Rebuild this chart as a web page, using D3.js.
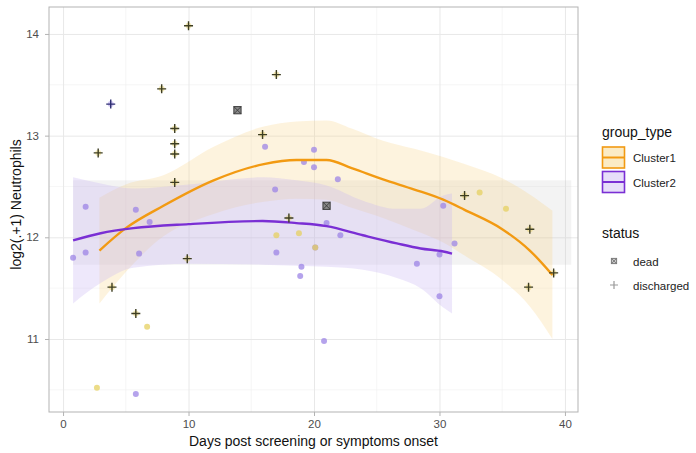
<!DOCTYPE html>
<html>
<head>
<meta charset="utf-8">
<script src="https://cdn.jsdelivr.net/npm/d3@7"></script>
<style>
  html, body { margin: 0; padding: 0; background: #ffffff; }
  svg { display: block; font-family: "Liberation Sans", Arial, sans-serif; }
</style>
</head>
<body>
<svg id="chart" width="696" height="453"></svg>
<script>
// ---------------- data ----------------
const xTicks = [0, 10, 20, 30, 40];
const yTicks = [11, 12, 13, 14];
const xMinor = [5, 15, 25, 35];
const yMinor = [10.5, 11.5, 12.5, 13.5];
const groups = ["Cluster1", "Cluster2"];
const statuses = ["dead", "discharged"];

// loess fit + CI, Cluster1
const c1Days = [2.9, 5, 8, 12, 16, 18.6, 21, 23, 25.5, 28, 30.3, 32, 35, 37.2, 39];
const c1Fit  = [11.87, 12.09, 12.31, 12.56, 12.72, 12.76, 12.76, 12.68, 12.57, 12.47, 12.37, 12.27, 12.08, 11.87, 11.63];
const c1Lo   = [11.35, 11.66, 12.01, 12.23, 12.35, 12.38, 12.37, 12.29, 12.19, 12.07, 11.95, 11.82, 11.58, 11.32, 11.00];
const c1Hi   = [12.39, 12.52, 12.61, 12.89, 13.09, 13.14, 13.15, 13.07, 12.95, 12.87, 12.79, 12.72, 12.58, 12.42, 12.26];

// loess fit + CI, Cluster2
const c2Days = [0.8, 3, 5.6, 10, 15.9, 18.6, 21, 23.9, 26.6, 28.5, 30.3, 31];
const c2Fit  = [11.97, 12.04, 12.09, 12.13, 12.16, 12.14, 12.11, 12.02, 11.94, 11.89, 11.86, 11.84];
const c2Lo   = [11.35, 11.55, 11.70, 11.74, 11.73, 11.72, 11.71, 11.68, 11.60, 11.50, 11.31, 11.25];
const c2Hi   = [12.59, 12.53, 12.48, 12.52, 12.59, 12.56, 12.51, 12.36, 12.28, 12.28, 12.41, 12.43];

// flat grey band
const bandDays = [0.8, 40.5];
const bandRange = [11.73, 12.56];

// plain coloured points
const dotDays   = [1.8, 5.8, 6.9, 0.8, 1.8, 6.06, 5.8, 16.1, 20.0, 20.0, 21.9, 16.9, 19.2, 21.0, 22.1, 17.0, 19.0, 18.9, 20.8, 30.3, 31.2, 30.0, 28.2, 30.0, 20.1,
                   17.0, 18.8, 20.1, 33.2, 35.3, 6.7, 2.7];
const dotValues = [12.30, 12.27, 12.15, 11.80, 11.85, 11.84, 10.46, 12.89, 12.86, 12.69, 12.57, 12.47, 12.74, 12.14, 12.02, 11.85, 11.71, 11.62, 10.98, 12.31, 11.94, 11.83, 11.74, 11.42, 11.90,
                   12.02, 12.04, 11.90, 12.44, 12.28, 11.12, 10.52];
const dotGroup  = ["Cluster2","Cluster2","Cluster2","Cluster2","Cluster2","Cluster2","Cluster2","Cluster2","Cluster2","Cluster2","Cluster2","Cluster2","Cluster2","Cluster2","Cluster2","Cluster2","Cluster2","Cluster2","Cluster2","Cluster2","Cluster2","Cluster2","Cluster2","Cluster2","Cluster2",
                   "Cluster1","Cluster1","Cluster1","Cluster1","Cluster1","Cluster1","Cluster1"];

// discharged (+) points
const plusDays   = [10.0, 7.86, 3.8, 8.9, 8.9, 8.9, 2.8, 8.9, 17.0, 15.9, 3.9, 5.8, 9.9, 18.0, 32.0, 37.2, 39.1, 37.1];
const plusValues = [14.08, 13.46, 13.31, 13.07, 12.92, 12.82, 12.83, 12.54, 13.60, 13.01, 11.51, 11.25, 11.79, 12.19, 12.41, 12.08, 11.65, 11.51];
const plusGroup  = ["Cluster1","Cluster1","Cluster2","Cluster1","Cluster1","Cluster1","Cluster1","Cluster1","Cluster1","Cluster1","Cluster1","Cluster1","Cluster1","Cluster1","Cluster1","Cluster1","Cluster1","Cluster1"];

// dead (⊠) points
const deadDays   = [13.9, 21.0];
const deadValues = [13.25, 12.31];

// ---------------- drawing ----------------
const svg = d3.select("#chart");
const panel = {left: 49, right: 578, top: 7, bottom: 412};
const x = d3.scaleLinear().domain([-1.12, 41.04]).range([panel.left, panel.right]);
const y = d3.scaleLinear().domain([10.282, 14.265]).range([panel.bottom, panel.top]);

const lineCol = {Cluster1: "#F29A12", Cluster2: "#7A2FD4"};
const ribbonCol = {Cluster1: "#F7D27E", Cluster2: "#C9B6F2"};
const ribbonOp = {Cluster1: 0.26, Cluster2: 0.32};
const dotCol = {Cluster1: "#E6D060", Cluster2: "#9C84E6"};
const plusCol = {Cluster1: "#3E3E22", Cluster2: "#2D2D70"};

// grid
const g = svg.append("g");
g.append("g").selectAll("line").data(xMinor).join("line")
  .attr("x1", d => x(d)).attr("x2", d => x(d)).attr("y1", panel.top).attr("y2", panel.bottom)
  .attr("stroke", "#F0F0F0").attr("stroke-width", 0.6);
g.append("g").selectAll("line").data(yMinor).join("line")
  .attr("y1", d => y(d)).attr("y2", d => y(d)).attr("x1", panel.left).attr("x2", panel.right)
  .attr("stroke", "#F0F0F0").attr("stroke-width", 0.6);
g.append("g").attr("transform", `translate(0,${panel.bottom})`)
  .call(d3.axisBottom(x).tickValues(xTicks).tickSize(-(panel.bottom - panel.top)).tickFormat(""))
  .call(a => a.select(".domain").remove())
  .call(a => a.selectAll("line").attr("stroke", "#E8E8E8").attr("stroke-width", 1));
g.append("g").attr("transform", `translate(${panel.left},0)`)
  .call(d3.axisLeft(y).tickValues(yTicks).tickSize(-(panel.right - panel.left)).tickFormat(""))
  .call(a => a.select(".domain").remove())
  .call(a => a.selectAll("line").attr("stroke", "#E8E8E8").attr("stroke-width", 1));

// grey band
svg.append("rect")
  .attr("x", x(bandDays[0])).attr("width", x(bandDays[1]) - x(bandDays[0]))
  .attr("y", y(bandRange[1])).attr("height", y(bandRange[0]) - y(bandRange[1]))
  .attr("fill", "#C4C4C4").attr("opacity", 0.2);

// ribbons
function ribbon(days, lo, hi, grp) {
  const area = d3.area().x(d => x(d[0])).y0(d => y(d[1])).y1(d => y(d[2])).curve(d3.curveMonotoneX);
  svg.append("path").datum(days.map((d, i) => [d, lo[i], hi[i]]))
    .attr("d", area).attr("fill", ribbonCol[grp]).attr("opacity", ribbonOp[grp]);
}
ribbon(c1Days, c1Lo, c1Hi, "Cluster1");
ribbon(c2Days, c2Lo, c2Hi, "Cluster2");

// dots
svg.append("g").selectAll("circle").data(dotDays.map((d, i) => i)).join("circle")
  .attr("cx", i => x(dotDays[i])).attr("cy", i => y(dotValues[i])).attr("r", 3)
  .attr("fill", i => dotCol[dotGroup[i]]).attr("opacity", 0.75);

// halos under + marks
svg.append("g").selectAll("circle").data(plusDays.map((d, i) => i)).join("circle")
  .attr("cx", i => x(plusDays[i])).attr("cy", i => y(plusValues[i])).attr("r", 3)
  .attr("fill", i => dotCol[plusGroup[i]]).attr("opacity", 0.45);

// smooth lines
function fitLine(days, fit, grp) {
  const line = d3.line().x(d => x(d[0])).y(d => y(d[1])).curve(d3.curveMonotoneX);
  svg.append("path").datum(days.map((d, i) => [d, fit[i]]))
    .attr("d", line).attr("fill", "none").attr("stroke", lineCol[grp]).attr("stroke-width", 2.4);
}
fitLine(c1Days, c1Fit, "Cluster1");
fitLine(c2Days, c2Fit, "Cluster2");

// + marks
const pg = svg.append("g");
plusDays.forEach((d, i) => {
  const cx = x(d), cy = y(plusValues[i]), s = 4.5;
  pg.append("path").attr("d", `M${cx - s},${cy}H${cx + s}M${cx},${cy - s}V${cy + s}`)
    .attr("stroke", plusCol[plusGroup[i]]).attr("stroke-width", 1.4);
});

// dead marks
function deadMark(sel, cx, cy, s, col, bg) {
  sel.append("rect").attr("x", cx - s).attr("y", cy - s).attr("width", 2 * s).attr("height", 2 * s)
    .attr("fill", bg).attr("stroke", col).attr("stroke-width", 1);
  sel.append("path").attr("d", `M${cx - s},${cy - s}L${cx + s},${cy + s}M${cx + s},${cy - s}L${cx - s},${cy + s}`)
    .attr("stroke", col).attr("stroke-width", 0.9);
}
deadDays.forEach((d, i) => deadMark(svg, x(d), y(deadValues[i]), 3.6, "#3A3A3A", "#8A8A8A"));

// panel border
svg.append("rect").attr("x", panel.left).attr("y", panel.top)
  .attr("width", panel.right - panel.left).attr("height", panel.bottom - panel.top)
  .attr("fill", "none").attr("stroke", "#B3B3B3").attr("stroke-width", 1);

// axes
const ax = svg.append("g").attr("transform", `translate(0,${panel.bottom})`)
  .call(d3.axisBottom(x).tickValues(xTicks).tickSize(4).tickPadding(4).tickFormat(d3.format("d")));
const ay = svg.append("g").attr("transform", `translate(${panel.left},0)`)
  .call(d3.axisLeft(y).tickValues(yTicks).tickSize(4).tickPadding(6).tickFormat(d3.format("d")));
[ax, ay].forEach(a => {
  a.select(".domain").remove();
  a.selectAll("line").attr("stroke", "#B3B3B3");
  a.selectAll("text").attr("fill", "#4D4D4D").style("font-size", "11.5px")
    .style("font-family", "'Liberation Sans', Arial, sans-serif");
});

// axis titles
svg.append("text").attr("x", (panel.left + panel.right) / 2).attr("y", 446)
  .attr("text-anchor", "middle").style("font-size", "14px").attr("fill", "#111")
  .text("Days post screening or symptoms onset");
svg.append("text").attr("transform", `translate(21,${(panel.top + panel.bottom) / 2 - 5}) rotate(-90)`)
  .attr("text-anchor", "middle").style("font-size", "14px").attr("fill", "#111")
  .text("log2(.+1) Neutrophils");

// legend: group_type
const lg = svg.append("g");
lg.append("text").attr("x", 602).attr("y", 137).style("font-size", "14px").attr("fill", "#111").text("group_type");
groups.forEach((grp, i) => {
  const ky = 147 + i * 24.5;
  lg.append("rect").attr("x", 602.5).attr("y", ky).attr("width", 22).attr("height", 21)
    .attr("fill", ribbonCol[grp]).attr("fill-opacity", 0.45).attr("stroke", lineCol[grp]).attr("stroke-width", 1.6);
  lg.append("line").attr("x1", 602.5).attr("x2", 624.5).attr("y1", ky + 10.5).attr("y2", ky + 10.5)
    .attr("stroke", lineCol[grp]).attr("stroke-width", 2);
  lg.append("text").attr("x", 633).attr("y", ky + 15).style("font-size", "11.5px").attr("fill", "#222").text(grp);
});

// legend: status
lg.append("text").attr("x", 602).attr("y", 238).style("font-size", "14px").attr("fill", "#111").text("status");
deadMark(lg, 614, 261, 2.6, "#7A7A7A", "#C8C8C8");
lg.append("path").attr("d", `M${614 - 4},285H${614 + 4}M614,${285 - 4}V${285 + 4}`)
  .attr("stroke", "#9A9A9A").attr("stroke-width", 1.2);
statuses.forEach((s, i) => {
  lg.append("text").attr("x", 633).attr("y", 265.5 + i * 24).style("font-size", "11.5px").attr("fill", "#222").text(s);
});
</script>
</body>
</html>
